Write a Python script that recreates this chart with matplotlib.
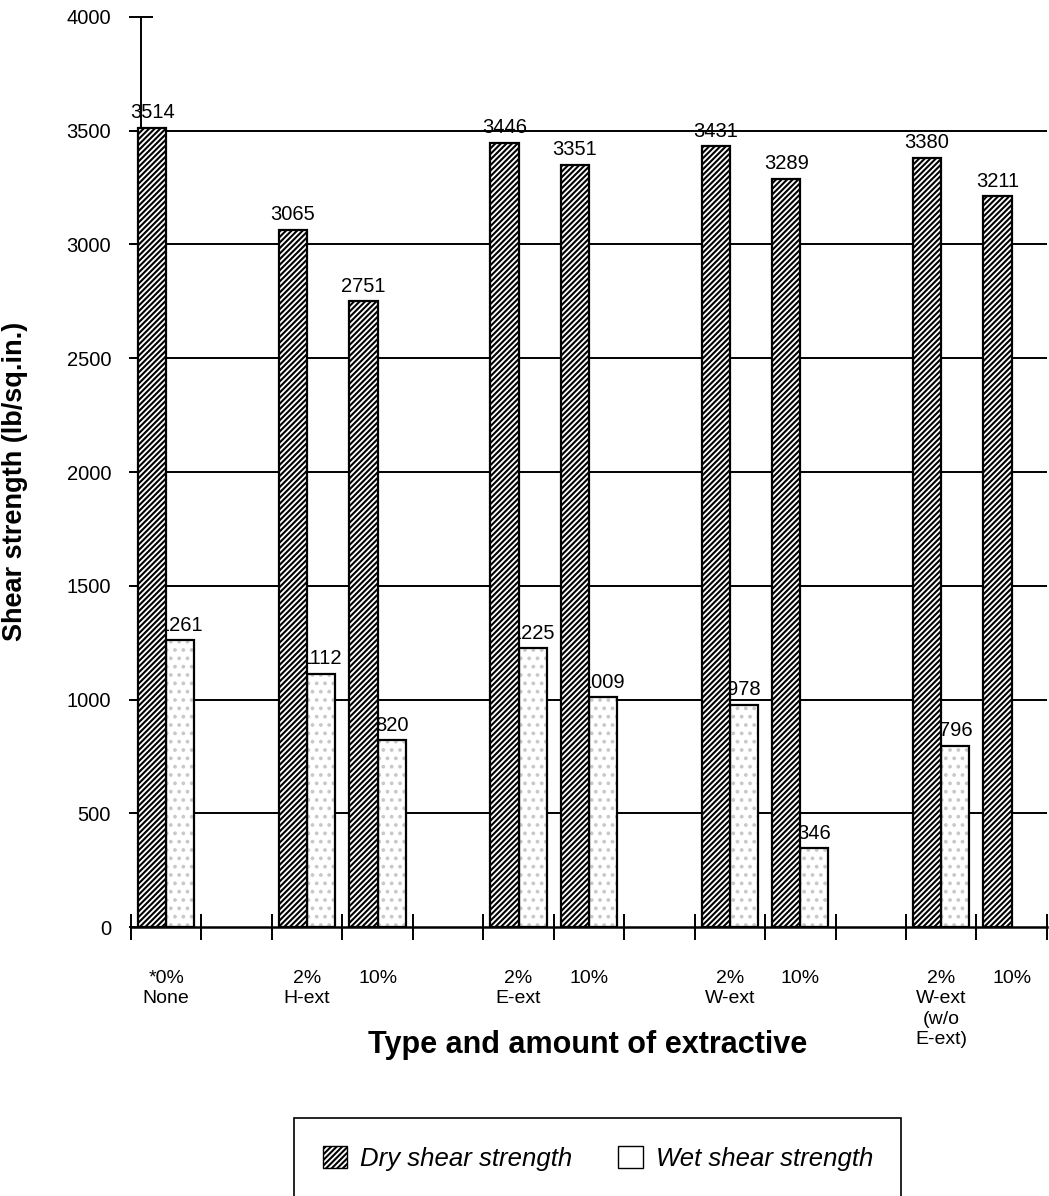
import matplotlib
matplotlib.use('Agg')
from matplotlib import pyplot as plt
from matplotlib.patches import Patch
import numpy as np

# shear strength of glue lines by extractive type and amount
group_sizes = [1, 2, 2, 2, 2]
labels = ['*0%\nNone', '2%\nH-ext', '10%', '2%\nE-ext', '10%',
          '2%\nW-ext', '10%', '2%\nW-ext\n(w/o\nE-ext)', '10%']
dry = [3514, 3065, 2751, 3446, 3351, 3431, 3289, 3380, 3211]
wet = [1261, 1112, 820, 1225, 1009, 978, 346, 796, np.nan]
yticks = [0, 500, 1000, 1500, 2000, 2500, 3000, 3500, 4000]

plt.rcParams['font.family'] = ['Liberation Sans', 'DejaVu Sans']
plt.rcParams['hatch.linewidth'] = 1.5

# one empty slot between groups
slots = []
s = 0
for n in group_sizes:
    slots += list(range(s, s + n))
    s += n + 1
slots = np.array(slots)
nslots = s - 1

fig = plt.figure(figsize=(10.49, 11.96), dpi=100)
ax = fig.add_axes([0.1249, 0.2249, 0.8731, 0.7609])

# horizontal grid lines
ax.hlines(yticks[1:-1], 0, nslots, colors='black', linewidth=1.4, zorder=1)

bw = 0.4
xd = slots + 0.1
xw = slots + 0.5

# dry bars: dense diagonal hatch
ax.bar(xd, dry, bw, align='edge', facecolor='white', edgecolor='black',
       hatch='//////', linewidth=1.6, zorder=3)

# wet bars: light stipple under a black outline
wet_arr = np.array(wet)
ok = ~np.isnan(wet_arr)
ax.bar(xw[ok], wet_arr[ok], bw, align='edge', facecolor='white',
       edgecolor='#c8c8c8', hatch='..', linewidth=0, zorder=2.6)
ax.bar(xw[ok], wet_arr[ok], bw, align='edge', facecolor='none',
       edgecolor='black', linewidth=1.6, zorder=2.7)

for x, v in zip(xd, dry):
    ax.annotate(f'{v}', (x + bw / 2, v), xytext=(0, 4),
                textcoords='offset points', ha='center', va='bottom',
                fontsize=14.5, zorder=4)
for x, v in zip(xw[ok], wet_arr[ok]):
    # the dry bar beside it hides part of the number
    ax.annotate(f'{int(v)}', (x + bw / 2, v), xytext=(0, 4),
                textcoords='offset points', ha='center', va='bottom',
                fontsize=14.5, zorder=2.5)

ax.set_xlim(0, nslots)
ax.set_ylim(0, 4000)

for side in ['top', 'right']:
    ax.spines[side].set_visible(False)
ax.spines['left'].set_position(('data', 0.14))
ax.spines['left'].set_linewidth(1.4)
ax.spines['bottom'].set_linewidth(1.8)

ax.set_yticks(yticks)
ax.tick_params(axis='y', direction='inout', length=17, width=1.4,
               pad=13, labelsize=14.5)

# boundary ticks on x, labels at the slot centres
ax.set_xticks(np.arange(nslots + 1))
ax.set_xticklabels([])
ax.set_xticks(slots + 0.5, minor=True)
ax.set_xticklabels(labels, minor=True, fontsize=14, va='top',
                   linespacing=1.25)
ax.tick_params(axis='x', which='major', direction='inout', length=19,
               width=1.4)
ax.tick_params(axis='x', which='minor', length=0, pad=31)

ax.set_ylabel('Shear strength (lb/sq.in.)', fontsize=19.5, fontweight='bold')
ax.yaxis.set_label_coords(-0.112, 0.49)
ax.set_xlabel('Type and amount of extractive', fontsize=22,
              fontweight='bold')
ax.xaxis.set_label_coords(0.499, -0.113)

handles = [
    Patch(facecolor='white', edgecolor='black', hatch='//////', linewidth=1),
    Patch(facecolor='white', edgecolor='black', linewidth=1),
]
leg = fig.legend(handles, ['Dry shear strength', 'Wet shear strength'],
                 loc='upper center', bbox_to_anchor=(0.57, 0.0655),
                 borderaxespad=0, ncol=2, fancybox=False, edgecolor='black',
                 framealpha=1, borderpad=1.1, handlelength=0.95,
                 handleheight=0.95, handletextpad=0.5, columnspacing=1.8,
                 prop={'size': 18.5, 'style': 'italic'})
leg.get_frame().set_linewidth(1.2)

fig.savefig('out.png', dpi=100)
